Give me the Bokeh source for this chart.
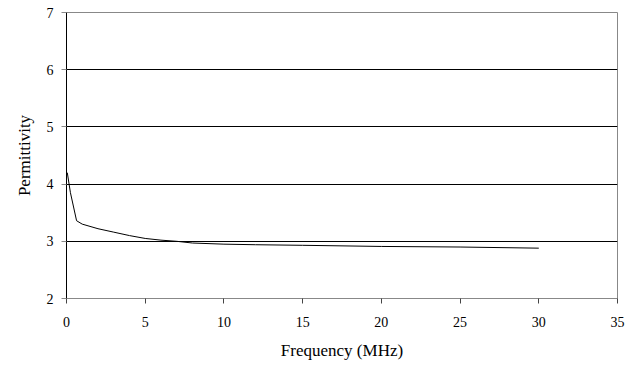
from bokeh.plotting import figure
from bokeh.models import Range1d, FixedTicker
from bokeh.embed import file_html
from bokeh.resources import INLINE

freq = [0.05, 0.25, 0.64, 1.0, 2.0, 3.0, 4.0, 5.0, 6.0, 7.0, 8.0, 10.0, 12.0, 15.0, 20.0, 25.0, 30.0]
perm = [4.2, 3.85, 3.36, 3.3, 3.22, 3.16, 3.1, 3.05, 3.02, 3.0, 2.97, 2.95, 2.94, 2.93, 2.91, 2.9, 2.88]
x_ticks = [0, 5, 10, 15, 20, 25, 30, 35]
y_ticks = [2, 3, 4, 5, 6, 7]

p = figure(width=638, height=367, output_backend="svg", toolbar_location=None,
           x_range=Range1d(0, 35), y_range=Range1d(2, 7),
           min_border_left=66, min_border_right=21, min_border_top=12, min_border_bottom=69)
p.background_fill_color = "white"
p.border_fill_color = "white"
p.outline_line_color = "#888888"
p.outline_line_width = 1

p.line(freq, perm, line_color="black", line_width=1)

p.xaxis.ticker = FixedTicker(ticks=x_ticks)
p.yaxis.ticker = FixedTicker(ticks=y_ticks)
p.xgrid.grid_line_color = None
p.ygrid.ticker = FixedTicker(ticks=[3, 4, 5, 6])
p.ygrid.grid_line_color = "black"
p.ygrid.grid_line_width = 1

font = "Liberation Serif"
for ax in (p.xaxis[0], p.yaxis[0]):
    ax.major_label_text_font = font
    ax.major_label_text_font_size = "14px"
    ax.major_label_text_color = "black"
    ax.axis_label_text_font = font
    ax.axis_label_text_font_size = "17px"
    ax.axis_label_text_font_style = "normal"
    ax.axis_label_text_color = "black"
    ax.minor_tick_line_color = None
    ax.major_tick_in = 0

p.xaxis.axis_label = "Frequency (MHz)"
p.yaxis.axis_label = "Permittivity"
p.xaxis.axis_line_color = "#888888"
p.xaxis.major_tick_line_color = "#444444"
p.xaxis.major_tick_out = 5
p.xaxis.major_label_standoff = 13
p.xaxis.axis_label_standoff = 11
p.yaxis.axis_line_color = "black"
p.yaxis.major_tick_line_color = "#888888"
p.yaxis.major_tick_out = 5
p.yaxis.major_label_standoff = 8
p.yaxis.axis_label_standoff = 10

open("out.html", "w").write(file_html(p, INLINE))
